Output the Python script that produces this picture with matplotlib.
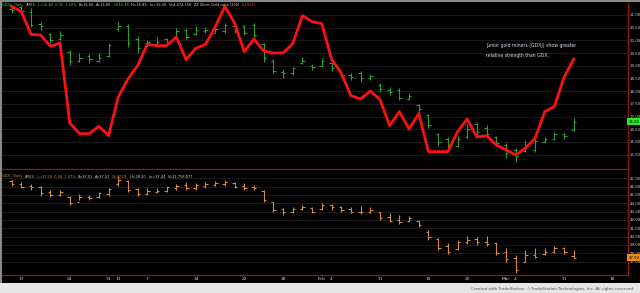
import matplotlib.pyplot as plt
import numpy as np

# daily bars, index 0 = Dec 14 2012 ... 58 = Mar 12 2013
gdxj_high = [21.31, 21.35, 21.28, 20.72, 20.29, 20.37, 19.62, 19.50, 19.46, 19.50,
             19.90, 20.72, 20.65, 20.17, 20.02, 20.17, 20.09, 20.49, 20.45, 20.57,
             20.53, 20.52, 20.70, 20.61, 20.61, 20.70, 19.91, 19.26, 18.83, 18.96,
             19.33, 19.06, 19.30, 19.16, 18.77, 18.73, 18.81, 18.68, 18.31, 18.15,
             18.11, 17.92, 17.50, 17.10, 16.35, 16.20, 16.24, 16.71, 16.80, 16.67,
             16.24, 15.96, 15.76, 16.08, 16.16, 16.20, 16.39, 16.35, 16.94]
gdxj_low = [21.08, 21.05, 20.53, 20.41, 19.90, 20.02, 19.03, 19.15, 19.11, 19.15,
            19.35, 20.37, 19.74, 19.50, 19.86, 19.82, 19.82, 20.13, 20.06, 20.21,
            20.29, 20.28, 20.28, 20.28, 20.21, 20.11, 19.16, 18.70, 18.51, 18.64,
            19.06, 18.83, 18.96, 18.80, 18.57, 18.44, 18.37, 18.44, 17.98, 17.85,
            17.65, 17.65, 17.15, 16.54, 15.84, 15.69, 15.80, 16.15, 16.28, 16.15,
            15.84, 15.37, 15.21, 15.61, 15.61, 15.96, 16.08, 16.12, 16.45]
gdxj_open = [21.25, 21.30, 21.10, 20.65, 20.25, 20.05, 19.55, 19.20, 19.40, 19.20,
             19.40, 20.45, 20.55, 20.05, 19.90, 19.85, 20.05, 20.15, 20.40, 20.25,
             20.35, 20.30, 20.35, 20.55, 20.55, 20.60, 19.85, 19.20, 18.75, 18.70,
             19.10, 19.00, 19.00, 19.10, 18.75, 18.65, 18.70, 18.50, 18.25, 18.05,
             18.05, 17.70, 17.45, 17.05, 16.30, 16.10, 15.85, 16.20, 16.70, 16.55,
             16.20, 15.90, 15.70, 15.65, 15.70, 16.00, 16.10, 16.30, 16.48]
gdxj_close = [21.20, 21.15, 20.60, 20.55, 20.00, 20.20, 19.20, 19.30, 19.25, 19.30,
              19.80, 20.55, 19.90, 19.70, 19.95, 19.95, 19.95, 20.35, 20.15, 20.40,
              20.40, 20.45, 20.60, 20.40, 20.30, 20.20, 19.30, 18.80, 18.70, 18.90,
              19.20, 18.95, 19.20, 18.90, 18.65, 18.55, 18.50, 18.60, 18.10, 17.95,
              17.75, 17.80, 17.30, 16.65, 16.00, 15.90, 16.10, 16.50, 16.40, 16.30,
              15.95, 15.55, 15.45, 15.90, 16.05, 16.10, 16.30, 16.25, 16.80]

ratio = [0.4560, 0.4552, 0.4518, 0.4517, 0.4500, 0.4505, 0.4385, 0.4369, 0.4369, 0.4380,
         0.4366, 0.4424, 0.4451, 0.4471, 0.4503, 0.4501, 0.4501, 0.4514, 0.4480, 0.4497,
         0.4503, 0.4529, 0.4560, 0.4535, 0.4492, 0.4511, 0.4493, 0.4490, 0.4490, 0.4504,
         0.4546, 0.4537, 0.4534, 0.4481, 0.4460, 0.4426, 0.4421, 0.4433, 0.4420, 0.4381,
         0.4402, 0.4376, 0.4399, 0.4342, 0.4342, 0.4342, 0.4372, 0.4391, 0.4364, 0.4366,
         0.4352, 0.4345, 0.4337, 0.4347, 0.4362, 0.4402, 0.4410, 0.4454, 0.4481]

gdx_high = [46.80, 46.56, 46.32, 46.08, 45.60, 45.60, 44.88, 45.12, 45.00, 45.36,
            45.84, 47.28, 46.80, 45.84, 45.84, 45.84, 46.08, 46.32, 46.56, 46.44,
            46.56, 46.68, 46.80, 46.56, 46.44, 46.20, 45.60, 44.16, 43.44, 43.56,
            43.80, 43.56, 44.04, 43.92, 43.68, 43.56, 43.68, 43.56, 42.96, 42.84,
            42.60, 42.48, 42.00, 40.80, 39.84, 39.24, 39.60, 40.08, 39.96, 40.08,
            39.36, 38.64, 37.80, 38.40, 38.64, 38.64, 38.88, 38.76, 38.40]
gdx_low = [46.08, 45.84, 45.60, 44.88, 44.76, 44.88, 43.80, 44.40, 44.40, 44.64,
           44.88, 46.08, 45.36, 44.88, 45.00, 45.24, 45.36, 45.60, 45.60, 45.60,
           45.84, 46.08, 46.08, 45.84, 45.60, 45.60, 44.16, 42.96, 42.60, 42.84,
           43.20, 42.84, 43.20, 43.20, 42.96, 42.84, 42.72, 42.84, 42.00, 41.76,
           41.52, 41.76, 41.16, 39.60, 38.40, 37.92, 38.40, 39.12, 39.00, 38.88,
           37.80, 36.96, 35.64, 36.96, 37.44, 37.80, 38.04, 37.92, 37.44]
gdx_open = [46.70, 46.30, 46.10, 45.90, 45.30, 45.00, 44.80, 44.10, 44.80, 44.70,
            45.10, 46.30, 46.70, 45.70, 45.10, 45.40, 45.50, 45.80, 46.20, 45.80,
            46.10, 46.20, 46.30, 46.40, 46.10, 45.90, 45.50, 44.10, 43.30, 42.90,
            43.30, 43.40, 43.30, 43.80, 43.50, 43.30, 43.00, 43.00, 42.90, 42.30,
            42.00, 41.90, 41.90, 40.60, 39.70, 38.90, 38.50, 39.30, 39.70, 39.40,
            39.20, 38.20, 37.40, 37.00, 37.80, 37.90, 38.20, 38.60, 37.70]
gdx_close = [46.30, 46.00, 45.90, 45.20, 45.00, 45.40, 44.00, 44.80, 44.60, 45.20,
             45.70, 46.80, 45.60, 45.10, 45.50, 45.50, 45.90, 46.10, 45.80, 46.20,
             46.30, 46.40, 46.50, 46.00, 45.80, 45.80, 44.40, 43.20, 42.90, 43.30,
             43.50, 43.00, 43.80, 43.50, 43.20, 43.00, 43.00, 43.20, 42.20, 41.90,
             41.80, 42.20, 41.40, 39.90, 38.60, 38.20, 39.30, 39.60, 39.30, 39.10,
             38.10, 37.30, 36.00, 37.80, 37.60, 38.20, 38.60, 38.20, 37.50]

date_pos = [1, 6, 10, 11, 14, 19, 24, 28, 32, 33, 38, 43, 47, 51, 52, 57, 62]
date_lbl = ['17', '24', '31', '13', '7', '14', '22', '28', 'Feb', '4', '11', '19',
            '25', 'Mar', '4', '11', '18']
week_pos = [1, 6, 10, 14, 19, 24, 28, 33, 38, 43, 47, 52, 57, 62]

plt.rcParams['font.family'] = ['Liberation Sans Narrow', 'DejaVu Sans']

green = '#2f9f2f'
orange = '#d9893a'
axis_red = '#9a1414'
txt = '#d0d0d0'
grid_c = '#1f1f1f'
XLIM = (-1.0, 63.57)


def draw_bars(ax, o, h, l, c, color):
    x = np.arange(len(o))
    ax.vlines(x, l, h, color=color, lw=0.8)
    ax.hlines(o, x - 0.25, x, color=color, lw=0.8)
    ax.hlines(c, x, x + 0.25, color=color, lw=0.8)


def style(ax, ylim, ticks, fmt):
    ax.set_facecolor('black')
    ax.set_xlim(*XLIM)
    ax.set_ylim(*ylim)
    ax.yaxis.tick_right()
    ax.set_yticks(ticks, [fmt % t for t in ticks])
    ax.tick_params(axis='y', length=0, pad=1.2, labelsize=2.8, labelcolor=txt)
    ax.set_xticks(week_pos, minor=True)
    ax.set_xticks(date_pos, [''] * len(date_pos))
    ax.tick_params(axis='x', which='both', length=0)
    ax.grid(axis='y', color=grid_c, lw=0.6)
    ax.grid(axis='x', which='minor', color=grid_c, lw=0.6)
    for s in ['top', 'left']:
        ax.spines[s].set_visible(False)
    for s in ['right', 'bottom']:
        ax.spines[s].set_color(axis_red)
        ax.spines[s].set_linewidth(0.9)


def header(fig, y, parts, size):
    # lay the coloured pieces out one after another
    r = fig.canvas.get_renderer()
    x = 2.5
    for s, c in parts:
        t = fig.text(x / 640, 1 - y / 293, s, fontsize=size, color=c, va='center', ha='left')
        x += t.get_window_extent(renderer=r).width + 2.0


fig = plt.figure(figsize=(6.4, 2.93), dpi=100, facecolor='black')
top_rect = [0.003, 0.4232, 0.978, 0.5666]
ax1 = fig.add_axes(top_rect)
ax2 = fig.add_axes([0.003, 0.0614, 0.978, 0.3584])

style(ax1, (14.937, 21.472), np.arange(15.5, 21.01, 0.5), '%.2f')
style(ax2, (35.40, 47.996), np.arange(37, 47.01, 1.0), '%.2f')

draw_bars(ax1, gdxj_open, gdxj_high, gdxj_low, gdxj_close, green)
draw_bars(ax2, gdx_open, gdx_high, gdx_low, gdx_close, orange)

# relative strength line on its own hidden scale
axr = fig.add_axes(top_rect, frameon=False)
axr.set_xlim(*XLIM)
axr.set_ylim(0.4316, 0.4565)
axr.axis('off')
axr.plot(np.arange(len(ratio)), ratio, color='#ff1010', lw=2.0)

# last price markers
ax1.text(1.001, gdxj_close[-1], '%.2f' % gdxj_close[-1], transform=ax1.get_yaxis_transform(),
         fontsize=2.8, color='black', va='center', ha='left',
         bbox=dict(boxstyle='square,pad=0.35', fc='#22ee22', ec='none'))
ax2.text(1.001, gdx_close[-1], '%.2f' % gdx_close[-1], transform=ax2.get_yaxis_transform(),
         fontsize=2.8, color='black', va='center', ha='left',
         bbox=dict(boxstyle='square,pad=0.35', fc='#f08a1a', ec='none'))

# date labels
for p, s in zip(date_pos, date_lbl):
    ax2.text(p, -0.035, s, transform=ax2.get_xaxis_transform(), fontsize=3.2,
             color=txt, ha='center', va='center')

header(fig, 5, [('GDXJ - Daily', '#33dd33'), ('AMEX', '#aaaaaa'),
                ('L=16.80  0.35  2.02%', '#33dd33'), ('B=16.80', txt), ('A=16.85', txt),
                ('O=16.48', '#33dd33'), ('Hi=16.89', txt), ('Lo=16.45', txt),
                ('V=4,872,158', txt), ('ZZ Silver Gold ratio (200)', txt),
                ('0.44815', '#ff2020')], 2.5)
header(fig, 176.5, [('GDX - Daily', '#e08a30'), ('AMEX', '#aaaaaa'),
                    ('L=37.50  0.58  1.57%', '#e08a30'), ('B=37.51', txt), ('A=37.52', txt),
                    ('O=37.01', '#e08a30'), ('Hi=38.20', txt), ('Lo=37.44', txt),
                    ('V=21,758,877', txt)], 2.5)

fig.text(486 / 640, 1 - 46 / 293, 'Junior gold miners (GDXJ) show greater',
         fontsize=3.3, color='#dcdcf0', va='center', ha='left', family='DejaVu Sans')
fig.text(486 / 640, 1 - 56 / 293, 'relative strength than GDX.',
         fontsize=3.3, color='#dcdcf0', va='center', ha='left', family='DejaVu Sans')

# footer band and borders
fig.patches.append(plt.Rectangle((0, 0), 1, 10.5 / 293, transform=fig.transFigure,
                                 fc='#e6e6e6', ec='none'))
fig.patches.append(plt.Rectangle((0, 1 - 1.5 / 293), 1, 1.5 / 293, transform=fig.transFigure,
                                 fc='#8a8a8a', ec='none'))
fig.patches.append(plt.Rectangle((0, 10.5 / 293), 1.5 / 640, 1, transform=fig.transFigure,
                                 fc='#8a8a8a', ec='none'))
fig.text(634 / 640, 4 / 293, 'Created with TradeStation. \u00a9TradeStation Technologies, Inc. All rights reserved.',
         fontsize=3.0, color='#555555', ha='right', va='center')

fig.savefig('out.png', dpi=100, facecolor='black')
